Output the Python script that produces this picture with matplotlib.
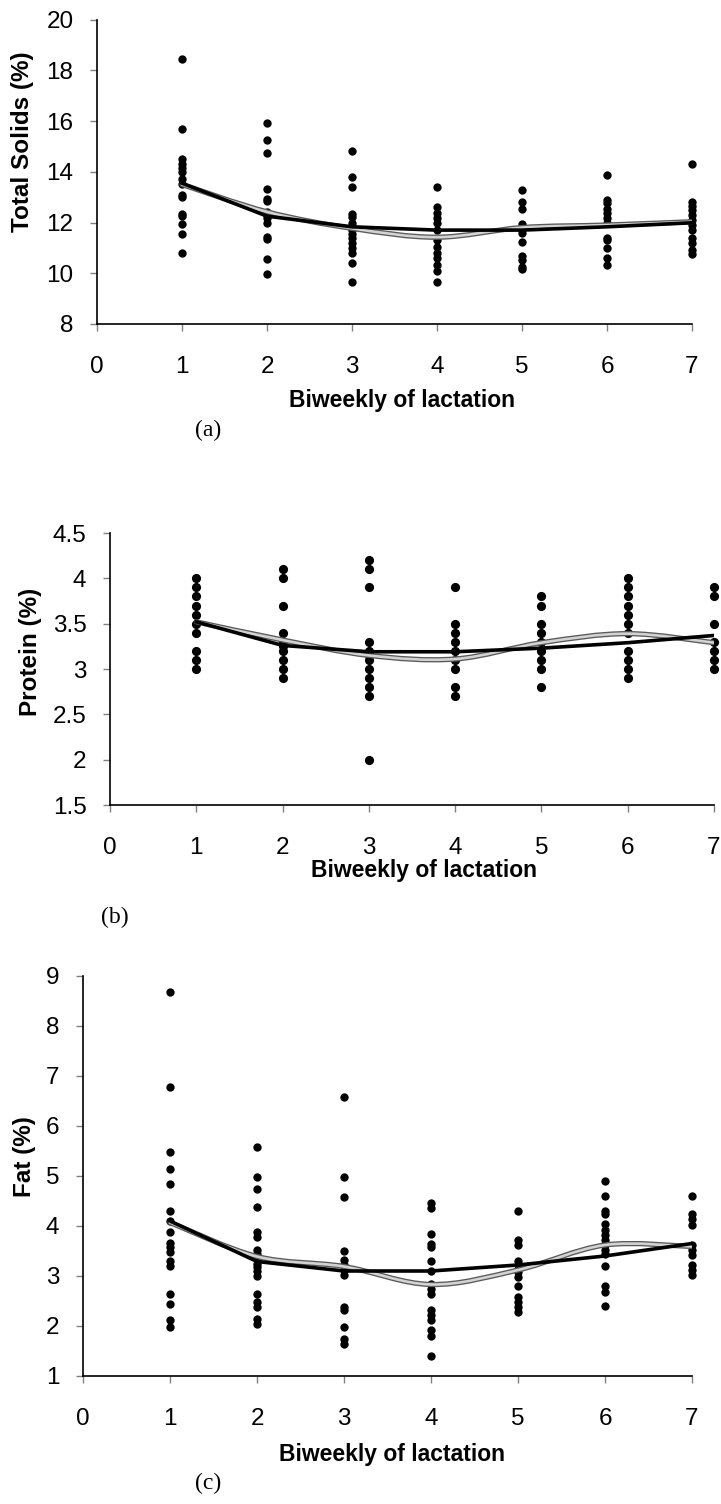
import numpy as np
import matplotlib
matplotlib.use("Agg")
import matplotlib.pyplot as plt
from matplotlib.path import Path
from matplotlib.patches import PathPatch

plt.rcParams['font.family'] = ['Liberation Sans', 'DejaVu Sans']

weeks = [1, 2, 3, 4, 5, 6, 7]
xticks = [0, 1, 2, 3, 4, 5, 6, 7]

# ---- (a) Total solids ----
ts_points = [
    [18.45, 15.7, 14.5, 14.3, 14.15, 14.0, 13.7, 13.5, 13.1, 13.0, 12.35, 12.25, 11.95, 11.55, 10.8],
    [15.94, 15.27, 14.75, 13.32, 12.92, 12.85, 12.42, 12.3, 12.16, 11.97, 11.44, 11.34, 10.57, 9.97],
    [14.81, 13.8, 13.38, 12.35, 12.2, 12.0, 11.85, 11.7, 11.55, 11.4, 11.2, 11.0, 10.8, 10.42, 9.67],
    [13.38, 12.62, 12.36, 12.16, 11.97, 11.71, 11.31, 11.05, 10.78, 10.59, 10.33, 10.1, 9.67],
    [13.3, 12.81, 12.55, 11.94, 11.73, 11.57, 11.24, 10.69, 10.52, 10.26, 10.15],
    [13.89, 12.9, 12.75, 12.55, 12.36, 12.16, 11.97, 11.38, 11.31, 10.98, 10.59, 10.33],
    [14.3, 12.81, 12.65, 12.5, 12.3, 12.1, 11.9, 11.7, 11.38, 11.18, 10.92, 10.76],
]
ts_fitted = [13.55, 12.25, 11.83, 11.7, 11.7, 11.83, 11.99]
ts_observed = [13.5, 12.42, 11.77, 11.42, 11.8, 11.9, 12.03]
ts_yticks = [8, 10, 12, 14, 16, 18, 20]

# ---- (b) Protein ----
pr_points = [
    [4.0, 3.9, 3.8, 3.7, 3.6, 3.5, 3.4, 3.2, 3.1, 3.0],
    [4.1, 4.0, 3.7, 3.4, 3.3, 3.25, 3.2, 3.1, 3.0, 2.9],
    [4.2, 4.1, 3.9, 3.3, 3.2, 3.15, 3.1, 3.0, 2.9, 2.8, 2.7, 2.0],
    [3.9, 3.5, 3.4, 3.3, 3.2, 3.1, 3.0, 2.8, 2.7],
    [3.8, 3.7, 3.5, 3.4, 3.3, 3.2, 3.1, 3.0, 2.8],
    [4.0, 3.9, 3.8, 3.7, 3.6, 3.5, 3.4, 3.2, 3.1, 3.0, 2.9],
    [3.9, 3.8, 3.5, 3.3, 3.2, 3.1, 3.0],
]
pr_fitted = [3.52, 3.26, 3.19, 3.19, 3.23, 3.29, 3.37]
pr_observed = [3.52, 3.32, 3.15, 3.11, 3.29, 3.39, 3.29]
pr_yticks = [1.5, 2, 2.5, 3, 3.5, 4, 4.5]
pr_yticklabels = ['1.5', '2', '2.5', '3', '3.5', '4', '4.5']

# ---- (c) Fat ----
fat_points = [
    [8.69, 6.79, 5.49, 5.15, 4.84, 4.3, 4.11, 3.89, 3.67, 3.59, 3.49, 3.31, 3.2, 2.65, 2.45, 2.12, 1.99],
    [5.59, 4.99, 4.74, 4.39, 3.89, 3.79, 3.52, 3.44, 3.35, 3.25, 3.19, 3.11, 3.0, 2.65, 2.49, 2.39, 2.15, 2.04],
    [6.59, 4.99, 4.59, 3.51, 3.32, 3.22, 3.12, 3.02, 2.39, 2.32, 1.99, 1.75, 1.64],
    [4.47, 4.37, 3.85, 3.65, 3.59, 3.31, 3.1, 2.85, 2.75, 2.65, 2.32, 2.22, 2.12, 1.92, 1.8, 1.4],
    [4.3, 3.72, 3.62, 3.31, 3.22, 3.09, 2.99, 2.8, 2.59, 2.49, 2.39, 2.29],
    [4.91, 4.6, 4.3, 4.25, 4.05, 3.92, 3.82, 3.72, 3.62, 3.52, 3.45, 3.21, 2.8, 2.69, 2.4],
    [4.6, 4.25, 4.15, 4.02, 3.62, 3.52, 3.42, 3.22, 3.12, 3.02],
]
fat_fitted = [4.1, 3.29, 3.1, 3.1, 3.22, 3.4, 3.65]
fat_observed = [4.07, 3.39, 3.19, 2.83, 3.12, 3.62, 3.59]
fat_yticks = [1, 2, 3, 4, 5, 6, 7, 8, 9]

W, H = 721, 1504
fig = plt.figure(figsize=(W / 100, H / 100), dpi=100)


def smooth_path(xs, ys):
    pts = np.column_stack([xs, ys]).astype(float)
    n = len(pts)
    verts = [pts[0]]
    codes = [Path.MOVETO]
    for i in range(n - 1):
        p0 = pts[i - 1] if i > 0 else pts[i]
        p1 = pts[i]
        p2 = pts[i + 1]
        p3 = pts[i + 2] if i + 2 < n else pts[i + 1]
        c1 = p1 + (p2 - p0) / 6.0
        c2 = p2 - (p3 - p1) / 6.0
        verts += [c1, c2, p2]
        codes += [Path.CURVE4] * 3
    return Path(verts, codes)


def panel(rect, points, fitted, observed, yticks, ylim, msize, yticklabels=None):
    ax = fig.add_axes(rect)
    for wk, vals in zip(weeks, points):
        ax.plot([wk] * len(vals), vals, 'o', color='black', markersize=msize,
                markeredgewidth=0, clip_on=False, zorder=3)
    # observed means (grey smoothed line)
    p = smooth_path(weeks, observed)
    ax.add_patch(PathPatch(p, facecolor='none', edgecolor='#5a5a5a', lw=3.8, zorder=4,
                           capstyle='round'))
    ax.add_patch(PathPatch(p, facecolor='none', edgecolor='#d2d2d2', lw=1.9, zorder=4.1,
                           capstyle='round'))
    # fitted line (black)
    ax.plot(weeks, fitted, color='black', lw=2.6, zorder=5)
    ax.set_xlim(0, 7)
    ax.set_ylim(*ylim)
    ax.set_xticks(xticks)
    ax.set_yticks(yticks)
    if yticklabels is not None:
        ax.set_yticklabels(yticklabels)
    for s in ['top', 'right']:
        ax.spines[s].set_visible(False)
    for s in ['left', 'bottom']:
        ax.spines[s].set_linewidth(1.2)
        ax.spines[s].set_color('black')
    ax.tick_params(axis='both', direction='out', length=5, width=1, color='#808080',
                   labelsize=17.5, labelcolor='black')
    ax.tick_params(axis='x', pad=18)
    ax.tick_params(axis='y', pad=12)
    return ax


def ftext(x, y, s, **kw):
    fig.text(x / W, 1 - y / H, s, ha='center', va='center', **kw)


panel([97 / W, 1 - 324 / H, (692 - 97) / W, (324 - 19.5) / H],
      ts_points, ts_fitted, ts_observed, ts_yticks, (8, 20), 6.0)
panel([110 / W, 1 - 805 / H, (714 - 110) / W, (805 - 533) / H],
      pr_points, pr_fitted, pr_observed, pr_yticks, (1.5, 4.5), 6.6, pr_yticklabels)
panel([83 / W, 1 - 1376 / H, (692 - 83) / W, (1376 - 976) / H],
      fat_points, fat_fitted, fat_observed, fat_yticks, (1, 9), 6.0)

xl = dict(fontsize=16.5, fontweight='bold')
yl = dict(fontsize=17.5, fontweight='bold', rotation=90)
pl = dict(fontsize=17, family=['Liberation Serif', 'DejaVu Serif'])

ftext(402, 400, 'Biweekly of lactation', **xl)
ftext(424, 870, 'Biweekly of lactation', **xl)
ftext(392, 1455, 'Biweekly of lactation', **xl)

ftext(23, 142, 'Total Solids (%)', **yl)
ftext(30, 652, 'Protein (%)', **yl)
ftext(25, 1157, 'Fat (%)', **yl)

ftext(208, 430, '(a)', **pl)
ftext(115, 917, '(b)', **pl)
ftext(208, 1483, '(c)', **pl)

fig.savefig('out.png', dpi=100)
